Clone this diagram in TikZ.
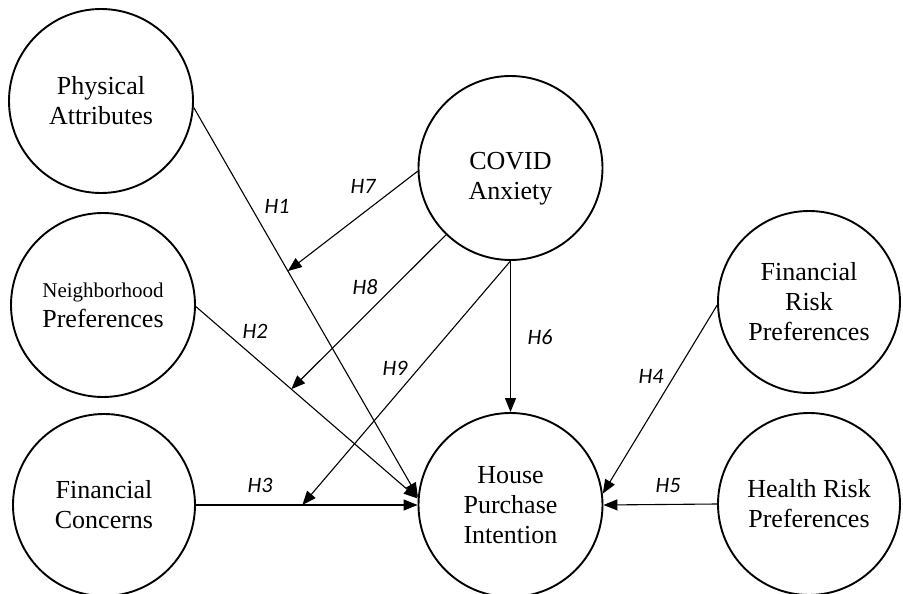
\documentclass[tikz,border=0pt]{standalone}
\usepackage{fontspec}
\setmainfont{Liberation Serif}
\newfontfamily\hfont{Carlito}
\usetikzlibrary{arrows.meta}
\begin{document}
\begin{tikzpicture}[x=1pt,y=-1pt,
  circ/.style={circle, draw, line width=1.9pt, minimum size=184pt, inner sep=0pt, align=center, font=\fontsize{26}{30}\selectfont},
  conn/.style={line width=1.1pt, -{Triangle[length=14pt,width=11pt]}},
  hyp/.style={font=\hfont\itshape\fontsize{22}{26}\selectfont}]
\useasboundingbox (0,0) rectangle (903,594);
\node[circ] (pa) at (101,101) {Physical\\Attributes};
\node[circ] (np) at (103,305) {{\fontsize{21}{25}\selectfont Neighborhood}\\Preferences};
\node[circ, minimum size=182pt] (fc) at (104,505) {Financial\\Concerns};
\node[circ, label={[yshift=-11pt, align=center, font=\fontsize{26}{30}\selectfont]center:COVID\\Anxiety}] (cov) at (510.5,168) {};
\node[circ] (hpi) at (510.5,505) {House\\Purchase\\Intention};
\node[circ, minimum size=182pt] (frp) at (809,302) {Financial\\Risk\\Preferences};
\node[circ, minimum size=182pt] (hrp) at (809,504) {Health Risk\\Preferences};

\draw[conn] (pa.-4) -- coordinate[pos=0.42] (p7) (hpi.175);
\draw[conn] (np.-1) -- coordinate[pos=0.43] (p8) (hpi.176);
\draw[conn] (fc.east) -- coordinate[pos=0.48] (p9) (hpi.west);
\draw[conn] (frp.182) -- (hpi.7);
\draw[conn] (hrp.west) -- (hpi.east);
\draw[conn] (cov.south) -- (hpi.north);
\draw[conn] (cov.182) -- (p7);
\draw[conn] (cov.226) -- (p8);
\draw[conn] (cov.south) -- (p9);

\node[hyp] (h1) at (277,206) {H1};
\node[hyp] (h2) at (255,331) {H2};
\node[hyp] (h3) at (260,485) {H3};
\node[hyp] (h4) at (651,376) {H4};
\node[hyp] (h5) at (668,486) {H5};
\node[hyp] (h6) at (540,337) {H6};
\node[hyp] (h7) at (363,186) {H7};
\node[hyp] (h8) at (365,287) {H8};
\node[hyp] (h9) at (395,368) {H9};
\end{tikzpicture}
\end{document}
